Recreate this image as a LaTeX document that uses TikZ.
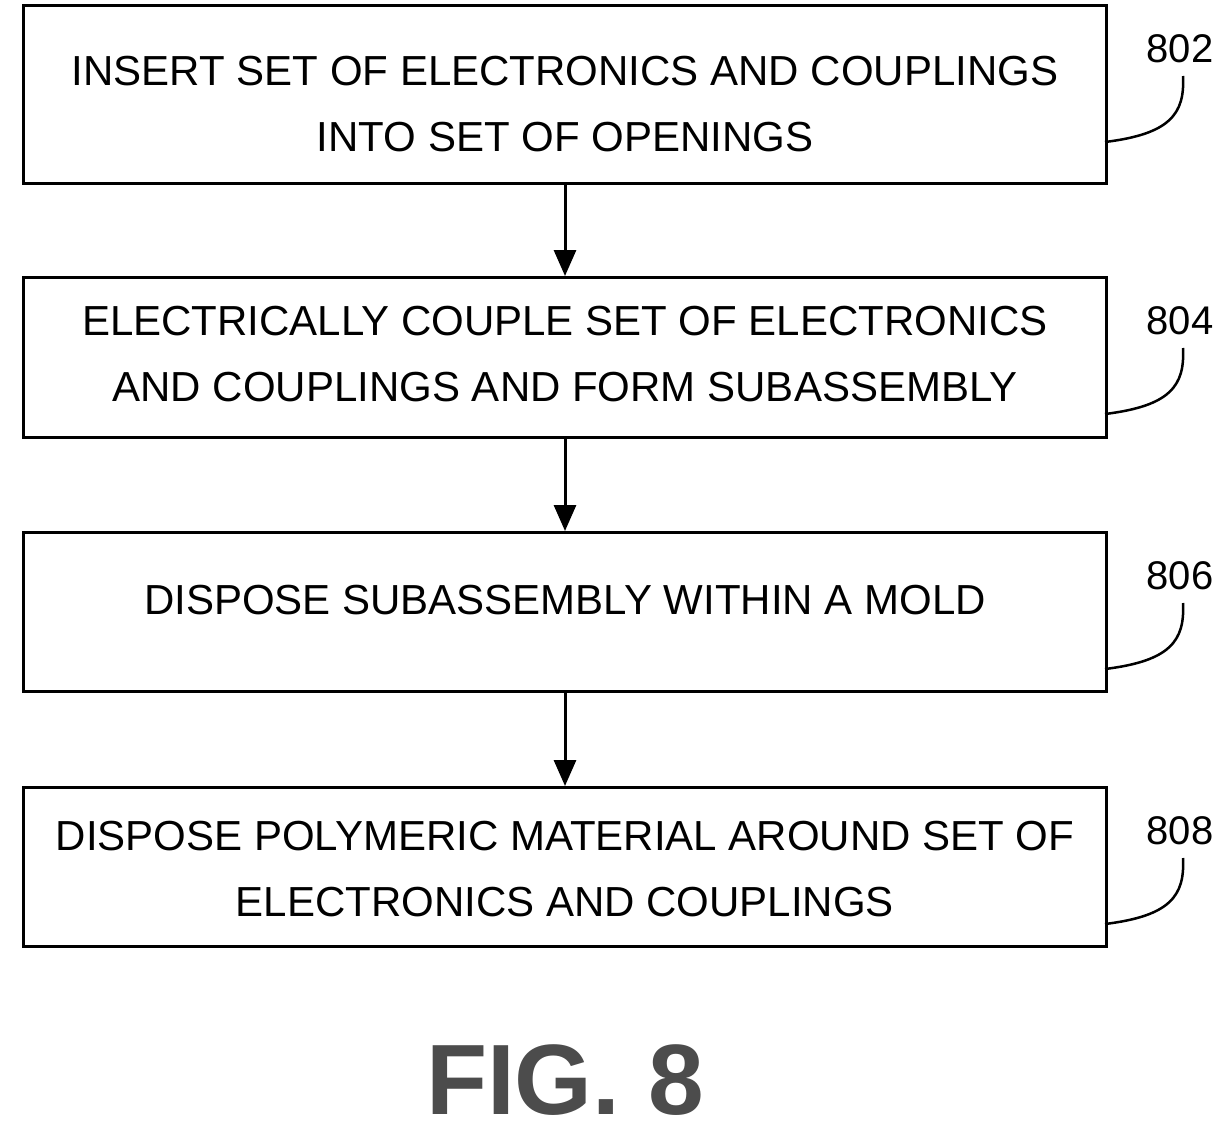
\documentclass[tikz,border=0pt]{standalone}
\usepackage{fontspec}
\setmainfont{Liberation Sans}
\usetikzlibrary{arrows.meta}
\begin{document}
\begin{tikzpicture}[x=1pt,y=-1pt,
  box/.style={draw,line width=3pt,minimum width=1083pt,anchor=north west,inner sep=0pt},
  txt/.style={align=center,inner sep=0pt,font=\fontsize{42}{66}\selectfont},
  arr/.style={line width=3pt,-{Triangle[length=26pt,width=22pt]}},
  lead/.style={line width=2.5pt},
  num/.style={font=\fontsize{40}{40}\selectfont}]
\useasboundingbox (0,0) rectangle (1232,1141);
\node[box,minimum height=178pt] (b1) at (22,4) {};
\node[box,minimum height=160pt] (b2) at (22,276) {};
\node[box,minimum height=159pt] (b3) at (22,531) {};
\node[box,minimum height=159pt] (b4) at (22,786) {};
\node[txt] (t1) at (565,104) {INSERT SET OF ELECTRONICS AND COUPLINGS\\INTO SET OF OPENINGS};
\node[txt] (t2) at (565,354) {ELECTRICALLY COUPLE SET OF ELECTRONICS\\AND COUPLINGS AND FORM SUBASSEMBLY};
\node[txt] (t3) at (565,600) {DISPOSE SUBASSEMBLY WITHIN A MOLD};
\node[txt] (t4) at (565,869) {DISPOSE POLYMERIC MATERIAL AROUND SET OF\\ELECTRONICS AND COUPLINGS};
\draw[arr] (b1.south) -- (b2.north);
\draw[arr] (b2.south) -- (b3.north);
\draw[arr] (b3.south) -- (b4.north);
\foreach \n/\y in {802/4,804/276,806/531,808/786}{
  \node[num] (n\n) at (1180,\y+45) {\n};
  \coordinate (c\n) at (1105,\y+138);
  \draw[lead] (c\n) .. controls (1170,\y+130) and (1185,\y+110) .. (1183,\y+72);
}
\node[font=\bfseries\fontsize{100}{100}\selectfont,text=black!70] (fig) at (565,1080) {FIG. 8};
\end{tikzpicture}
\end{document}
